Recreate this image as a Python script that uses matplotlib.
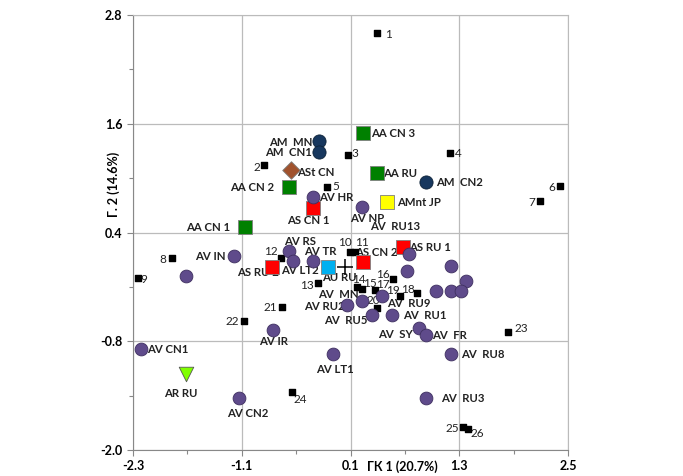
import matplotlib
matplotlib.use("Agg")
import numpy as np
import matplotlib.pyplot as plt
from matplotlib.ticker import MultipleLocator, FixedLocator

plt.rcParams['font.family'] = ['Lato', 'DejaVu Sans']

# sites 1-26 (small black squares)
site_labels = [str(i) for i in range(1, 27)]
site_x = [0.394, -0.853, 0.074, 1.200, -0.158, 2.415, 2.194, -1.869, -2.245, 0.096,
          0.151, -0.666, -0.257, 0.173, 0.229, 0.571, 0.372, 0.836, 0.648, 0.394,
          -0.655, -1.074, 1.841, -0.544, 1.344, 1.399]
site_y = [2.601, 1.144, 1.254, 1.276, 0.901, 0.912, 0.746, 0.117, -0.104, 0.183,
          0.183, 0.117, -0.159, -0.204, -0.226, -0.115, -0.237, -0.270, -0.303, -0.435,
          -0.424, -0.579, -0.700, -1.363, -1.750, -1.772]

# AV (purple circles)
av_names = ['AV HR', 'AV NP', 'AV  RU13', 'AV RS', 'AV IN', 'AV LT2', 'AV TR',
            '', '', '', '', '', '', '',
            'AV  RU9', 'AV  MN', 'AV RU2', 'AV  RU5', 'AV  RU1', 'AV  SY', 'AV  FR',
            'AV LT1', 'AV  RU8', 'AV IR', 'AV CN1', 'AV CN2', 'AV  RU3']
av_x = [-0.312, 0.229, 0.748, -0.577, -1.185, -0.533, -0.312,
        -1.715, 0.726, 1.211, 1.377, 1.046, 1.211, 1.322,
        0.450, 0.229, 0.063, 0.339, 0.560, 0.858, 0.935,
        -0.092, 1.211, -0.754, -2.212, -1.130, 0.935]
av_y = [0.790, 0.680, 0.161, 0.194, 0.139, 0.084, 0.084,
        -0.082, -0.027, 0.028, -0.137, -0.248, -0.248, -0.248,
        -0.303, -0.358, -0.402, -0.513, -0.513, -0.656, -0.734,
        -0.943, -0.943, -0.678, -0.888, -1.429, -1.429]

# AM (dark blue circles)
am_names = ['AM  MN', 'AM  CN1', 'AM  CN2']
am_x = [-0.246, -0.246, 0.935]
am_y = [1.409, 1.287, 0.956]

# AA (green squares)
aa_names = ['AA CN 3', 'AA RU', 'AA CN 2', 'AA CN 1']
aa_x = [0.240, 0.394, -0.577, -1.063]
aa_y = [1.497, 1.055, 0.901, 0.459]

# AS (red squares)
as_names = ['AS CN 1', 'AS CN 2', 'AS RU 1', 'AS RU 2']
as_x = [-0.312, 0.240, 0.681, -0.765]
as_y = [0.669, 0.073, 0.238, 0.017]

# single groups
ast_name, ast_x, ast_y = 'ASt CN', -0.555, 1.088
amnt_name, amnt_x, amnt_y = 'AMnt JP', 0.505, 0.735
au_name, au_x, au_y = 'AU RU', -0.147, 0.017
ar_name, ar_x, ar_y = 'AR RU', -1.715, -1.164
centroid_x, centroid_y = 0.041, 0.017

x_ticks = [-2.3, -1.1, 0.1, 1.3, 2.5]
y_ticks = [-2.0, -0.8, 0.4, 1.6, 2.8]
x_title = 'ГК 1 (20.7%)'
y_title = 'Г. 2 (14.6%)'

# label placement: ha, dx, dy in pixels (dy downwards)
label_pos = {
    '1': ('center', 11, 1), '2': ('center', -7, 2), '3': ('center', 7, -2),
    '4': ('center', 8, 0), '5': ('center', 9, -1), '6': ('center', -8, 1),
    '7': ('center', -8, 1), '8': ('center', -9, 1), '9': ('center', 6, 1),
    '10': ('center', -5, -10), '11': ('center', 7, -10), '12': ('center', -10, -7),
    '13': ('center', -11, 2), '14': ('center', 2, -8), '15': ('center', 8, -6),
    '16': ('center', -10, -5), '17': ('center', 8, -6), '18': ('center', -9, -4),
    '19': ('center', -7, -6), '20': ('center', -4, -8), '21': ('center', -12, 0),
    '22': ('center', -12, 0), '23': ('center', 13, -4), '24': ('center', 8, 7),
    '25': ('center', -11, 1), '26': ('center', 9, 4),
    'AV HR': ('left', 6, 0), 'AV NP': ('center', 5, 11), 'AV  RU13': ('center', -14, -28),
    'AV RS': ('center', 11, -10), 'AV IN': ('right', -8, 0), 'AV LT2': ('center', 7, 9),
    'AV TR': ('center', 7, -10), 'AV  RU9': ('left', 5, 7), 'AV  MN': ('right', -4, -7),
    'AV RU2': ('right', -2, 1), 'AV  RU5': ('right', -5, 5), 'AV  RU1': ('left', 11, 0),
    'AV  SY': ('right', -6, 6), 'AV  FR': ('left', 6, 0), 'AV LT1': ('center', 2, 15),
    'AV  RU8': ('left', 10, 0), 'AV IR': ('center', 0, 11), 'AV CN1': ('left', 6, 0),
    'AV CN2': ('center', 9, 15), 'AV  RU3': ('left', 15, 0),
    'AM  MN': ('right', -7, 1), 'AM  CN1': ('right', -7, 0), 'AM  CN2': ('left', 10, 0),
    'AA CN 3': ('left', 8, 0), 'AA RU': ('left', 6, 0), 'AA CN 2': ('right', -15, 0),
    'AA CN 1': ('right', -15, 0),
    'AS CN 1': ('center', -5, 12), 'AS CN 2': ('center', 13, -10), 'AS RU 1': ('left', 6, 0),
    'AS RU 2': ('center', -14, 5),
    'ASt CN': ('left', 6, 2), 'AMnt JP': ('left', 10, 0), 'AU RU': ('center', 11, 10),
    'AR RU': ('center', -5, 19),
}


def put_label(ax, name, x, y, bold=True, size=8.2):
    if not name:
        return
    ha, dx, dy = label_pos[name]
    ax.annotate(name, (x, y), xytext=(dx * 0.72, -dy * 0.72), textcoords='offset points',
                ha=ha, va='center', fontsize=size,
                fontweight='bold' if bold else 'normal', color='#222222', zorder=2)


fig = plt.figure(figsize=(6.83, 4.76), dpi=100)
ax = fig.add_axes([133 / 683, 26 / 476, 435 / 683, 435 / 476])

ax.set_xlim(-2.3, 2.5)
ax.set_ylim(-2.0, 2.8)
ax.xaxis.set_major_locator(FixedLocator(x_ticks))
ax.yaxis.set_major_locator(FixedLocator(y_ticks))
ax.xaxis.set_minor_locator(MultipleLocator(0.6, offset=0.1))
ax.yaxis.set_minor_locator(MultipleLocator(0.6, offset=0.4))
ax.set_xticklabels(['%.1f' % v for v in x_ticks], fontweight='bold', fontsize=9)
ax.set_yticklabels(['%.1f' % v for v in y_ticks], fontweight='bold', fontsize=9)
ax.tick_params(which='both', direction='out', color='#888888', length=4, width=0.8)
ax.tick_params(which='minor', length=3)
ax.grid(True, which='major', color='#bbbbbb', linewidth=0.9)
ax.set_axisbelow(True)
for side in ['left', 'bottom']:
    ax.spines[side].set_color('#888888')
for side in ['top', 'right']:
    ax.spines[side].set_color('#bbbbbb')

# axis titles placed like tick labels
ax.annotate(x_title, (0.67, 0), xycoords=('data', 'axes fraction'), xytext=(0, -7.5),
            textcoords='offset points', ha='center', va='top', fontsize=9, fontweight='bold')
ax.annotate(y_title, (0, 0.93), xycoords=('axes fraction', 'data'), xytext=(-14, 0),
            textcoords='offset points', ha='center', va='center', rotation=90,
            fontsize=9, fontweight='bold')

# sites
ax.scatter(site_x, site_y, marker='s', s=14, c='black', zorder=3)
for n, x, y in zip(site_labels, site_x, site_y):
    put_label(ax, n, x, y, bold=False, size=8.5)

# groups
ax.scatter(as_x, as_y, marker='s', s=100, c='#ff0000', edgecolors='#7f7f7f', linewidths=0.6, zorder=4)
ax.scatter(aa_x, aa_y, marker='s', s=100, c='#008000', edgecolors='#7f7f7f', linewidths=0.6, zorder=4)
ax.scatter([amnt_x], [amnt_y], marker='s', s=100, c='#ffff00', edgecolors='#7f7f7f', linewidths=0.6, zorder=4)
ax.scatter([au_x], [au_y], marker='s', s=100, c='#00b0f0', edgecolors='#7f7f7f', linewidths=0.6, zorder=4)
ax.scatter([ast_x], [ast_y], marker='D', s=80, c='#a0522d', edgecolors='#7f7f7f', linewidths=0.6, zorder=4)
ax.scatter([ar_x], [ar_y], marker='v', s=110, c='#80ff00', edgecolors='#555555', linewidths=0.6, zorder=4)
ax.scatter(av_x, av_y, marker='o', s=85, c='#5f4b8b', edgecolors='#3f3060', linewidths=0.6, zorder=5)
ax.scatter(am_x, am_y, marker='o', s=90, c='#17375e', edgecolors='#0d2238', linewidths=0.6, zorder=5)
ax.scatter([centroid_x], [centroid_y], marker='+', s=120, c='black', linewidths=1.1, zorder=5)

for names, xs, ys in [(av_names, av_x, av_y), (am_names, am_x, am_y), (aa_names, aa_x, aa_y),
                      (as_names, as_x, as_y)]:
    for n, x, y in zip(names, xs, ys):
        put_label(ax, n, x, y)
for n, x, y in [(ast_name, ast_x, ast_y), (amnt_name, amnt_x, amnt_y),
                (au_name, au_x, au_y), (ar_name, ar_x, ar_y)]:
    put_label(ax, n, x, y)

fig.savefig('out.png', dpi=100)
